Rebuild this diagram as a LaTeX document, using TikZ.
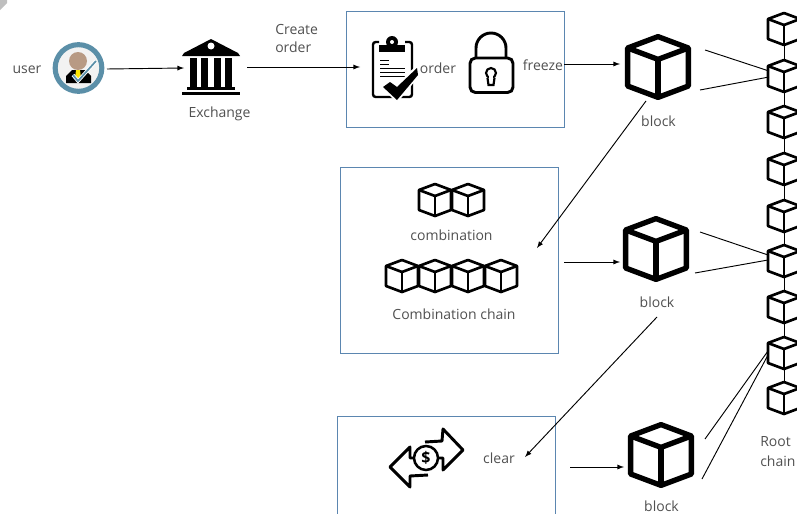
\documentclass[tikz,border=0pt]{standalone}
\usepackage{fontspec}
\setmainfont{Open Sans}
\usepackage{tikz}

\definecolor{boxblue}{HTML}{5B86B0}
\definecolor{ringblue}{HTML}{5B8FA8}
\definecolor{skin}{HTML}{B89A84}
\definecolor{labelgrey}{HTML}{505050}

\tikzset{
  pics/cube/.style={code={
    \node[minimum width=24pt, minimum height=24pt, inner sep=0pt, transform shape] (-c) {};
    \draw[line join=round] (0,-16) -- (16,-10) -- (16,10) -- (0,16) -- (-16,10) -- (-16,-10) -- cycle;
    \draw[line join=round] (-16,-10) -- (0,-4) -- (16,-10);
    \draw (0,-4) -- (0,16);
  }},
  bigblock/.style={scale=1.9, line width=4pt},
  smallblock/.style={scale=1, line width=2pt},
  stagebox/.style={draw=boxblue, line width=0.75pt},
  lbl/.style={text=labelgrey, font=\fontsize{10.5pt}{13pt}\selectfont, inner sep=0pt},
  link/.style={line width=0.7pt},
  flow/.style={line width=0.7pt, -latex}
}

\begin{document}
\begin{tikzpicture}[x=0.75pt, y=-0.75pt]
  \path[use as bounding box, clip] (0,0) rectangle (797,514);

  % Corner mark
  \fill[black!25] (0,0) -- (7,0) -- (7,3) -- (0,10) -- cycle;

  % Draw the stage boxes
  \node[stagebox, minimum width=163.5pt, minimum height=87pt, inner sep=0pt] (freezebox) at (455,69) {};
  \node[stagebox, minimum width=163.5pt, minimum height=139.5pt, inner sep=0pt] (comebox) at (449,260) {};
  \node[stagebox, minimum width=163.5pt, minimum height=100.5pt, inner sep=0pt] (clearbox) at (446.5,483) {};

  % Draw the user
  \node[draw=ringblue, line width=3.8pt, fill=black!5, circle, minimum size=35pt, inner sep=0pt] (user) at (78.5,68) {};
  \fill (66,83) -- (66,76) -- (72,70) -- (85,70) -- (91,76) -- (91,83) -- cycle;
  \fill[skin] (78,61) circle (9);
  \fill[yellow!90!orange] (76,70) -- (80,70) -- (81,78) -- (78,82) -- (75,78) -- cycle;
  \draw[white, line width=2.6pt] (73,75) -- (78,81) -- (96,61);
  \draw[ringblue, line width=1.3pt] (73,75) -- (78,81) -- (96,61);

  % Draw the exchange
  \node[minimum width=43pt, minimum height=42pt, inner sep=0pt] (bank) at (211,67) {};
  \fill (211,39) -- (238,53) -- (240,56) -- (182,56) -- (184,53) -- cycle;
  \fill[white] (211,46) circle (3.5);
  \foreach \x in {190,201,214,225}
    \fill (\x,58) rectangle ++(7,29);
  \fill (187,87) rectangle (235,90);
  \fill (182,92) rectangle (240,95);

  % Draw the order sheet
  \node[minimum width=31pt, minimum height=41pt, inner sep=0pt] (sheet) at (392.5,69) {};
  \draw[line width=1.8pt, rounded corners=2pt] (379,42) -- (373,42) -- (373,97) -- (412,97) -- (412,42) -- (405,42);
  \fill (379,45) rectangle (405,52);
  \fill (392,42) circle (6);
  \fill[white] (392,42) circle (2);
  \foreach \y/\e in {60/389,64/389,68/405,72/405,76/405}
    \draw[line width=0.7pt] (380,\y) -- (\e,\y);
  \fill[white] (381,87) -- (397,103) -- (420,75) -- (417,65) -- (397,84) -- (390,79) -- cycle;
  \fill (383,87) -- (397,100) -- (418,75) -- (417,68) -- (397,87) -- (390,82) -- cycle;

  % Draw the lock
  \node[minimum width=33pt, minimum height=45pt, inner sep=0pt] (lock) at (491,62.5) {};
  \draw[line width=2.2pt] (476,58) -- (476,48) arc[start angle=180, end angle=360, radius=15] -- (506,58);
  \draw[line width=2.2pt, rounded corners=4pt] (470,58) rectangle (513,92.5);
  \draw[line width=1.6pt] (487.5,78) -- (488.5,85) -- (493.5,85) -- (494.5,78);
  \draw[line width=1.6pt] (491,73) circle (5);
  \fill[white] (489,76) rectangle (493,80);

  % Draw the clearing arrows
  \draw[line width=2.2pt, line join=round] (425,442) -- (442,441) -- (443,429) -- (463,450) -- (443,470) -- (443,458) -- (436,458);
  \draw[line width=2.2pt, line join=round] (428,475) -- (410,476) -- (410,487) -- (390,467) -- (410,447) -- (410,458) -- (416,458);
  \node[draw, fill=white, circle, line width=1.9pt, minimum size=18pt, inner sep=0pt, font=\bfseries\large] (coin) at (426,458) {\$};

  % Draw the cubes of the boxes
  \foreach \i/\x in {1/435,2/468}
    \pic[smallblock] (pair\i) at (\x,200) {cube};
  \foreach \i/\x in {1/402,2/435,3/468,4/501}
    \pic[smallblock] (comb\i) at (\x,276) {cube};

  % Draw the blocks
  \pic[bigblock] (blocka) at (658,67) {cube};
  \pic[bigblock] (blockb) at (656,249) {cube};
  \pic[bigblock] (blockc) at (661,455) {cube};

  % Draw the root chain
  \foreach \i/\y in {1/29,2/76,3/122,4/169,5/216,6/261,7/307,8/353,9/398}
    \pic[smallblock] (root\i) at (784,\y) {cube};
  \foreach \i/\j in {1/2, 2/3, 3/4, 4/5, 5/6, 6/7, 7/8, 8/9}
    \draw[link] (root\i-c.south) -- (root\j-c.north);

  % Free ends of the connectors
  \foreach \n/\x/\y in {usr/107/69, bnkin/184/68, bnkout/247/67, ordin/360/67, frz/564/64, blkain/620/64,
      aout/646/101, cmbin/537/248, cmbout/564/262, blkbin/620/262, bout/657/317, clrin/525/457,
      clrout/570/467, blkcin/624/467, au/705/50, al/700/90, bu/700/232, bl/695/273, cu/705/439, cl/702/479,
      rau/769/71, ral/769/77, rbu/768/255, rbl/768/260, rcu/768/351, rcl/768/355}
    \coordinate (\n) at (\x,\y);

  % Draw the flow
  \foreach \a/\b in {usr/bnkin, bnkout/ordin, frz/blkain, aout/cmbin, cmbout/blkbin, bout/clrin, clrout/blkcin}
    \draw[flow] (\a) -- (\b);

  % Draw the anchoring lines
  \foreach \a/\b in {au/rau, al/ral, bu/rbu, bl/rbl, cu/rcu, cl/rcl}
    \draw[link] (\a) -- (\b);

  % Draw the labels
  \node[lbl] (userlbl) at (27,70) {user};
  \node[lbl] (banklbl) at (219.5,113.5) {Exchange};
  \node[lbl, anchor=west] (createlbl) at (275,29) {Create};
  \node[lbl, anchor=west] (createlblb) at (275,47.5) {order};
  \node[lbl] (orderlbl) at (438,68) {order};
  \node[lbl] (freezelbl) at (543,65) {freeze};
  \node[lbl] (blockalbl) at (658.5,121) {block};
  \node[lbl] (pairlbl) at (451.5,235) {combination};
  \node[lbl] (comblbl) at (454,314) {Combination chain};
  \node[lbl] (blockblbl) at (657,302) {block};
  \node[lbl] (clearlbl) at (499,458) {clear};
  \node[lbl] (blockclbl) at (661.5,506.5) {block};
  \node[lbl, anchor=west] (rootlbl) at (760,442) {Root};
  \node[lbl, anchor=west] (rootlblb) at (760,461) {chain};
\end{tikzpicture}
\end{document}
